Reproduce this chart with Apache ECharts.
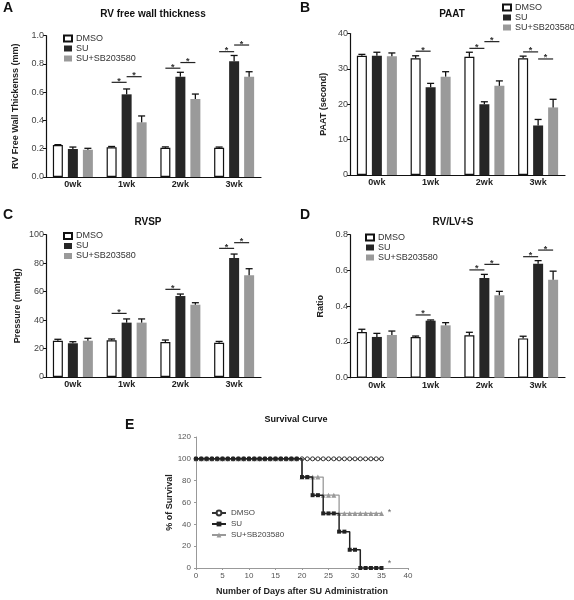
<!DOCTYPE html>
<html><head><meta charset="utf-8">
<script src="https://cdn.jsdelivr.net/npm/echarts@6/dist/echarts.min.js"></script>
<style>html,body{margin:0;padding:0;background:#fff}#c{width:574px;height:600px}</style>
</head><body><div id="c"></div>
<script>
// ---------- data ----------
const weeks = ['0wk', '1wk', '2wk', '3wk'];
const groups = ['DMSO', 'SU', 'SU+SB203580'];

// A: RV free wall thickness (mm)
const rvwtDMSO = [0.226, 0.21, 0.207, 0.207];
const rvwtSU   = [0.198, 0.585, 0.71, 0.82];
const rvwtSB   = [0.193, 0.387, 0.552, 0.71];
const rvwtDMSOErr = [0.003, 0.006, 0.006, 0.005];
const rvwtSUErr   = [0.014, 0.038, 0.031, 0.04];
const rvwtSBErr   = [0.01, 0.045, 0.035, 0.035];
const rvwtSig = [[1, 0, 1, 0.67], [1, 1, 2, 0.71], [2, 0, 1, 0.77], [2, 1, 2, 0.81], [3, 0, 1, 0.887], [3, 1, 2, 0.934]];
const rvwtTicks = [0, 0.2, 0.4, 0.6, 0.8, 1.0];

// B: PAAT (second)
const paatDMSO = [33.7, 33.0, 33.4, 33.0];
const paatSU   = [33.7, 24.8, 20.0, 14.0];
const paatSB   = [33.6, 27.8, 25.2, 19.1];
const paatDMSOErr = [0.4, 0.7, 1.3, 0.6];
const paatSUErr   = [1.0, 1.1, 0.7, 1.7];
const paatSBErr   = [0.9, 1.4, 1.4, 2.3];
const paatSig = [[1, 0, 1, 35.0], [2, 0, 1, 35.8], [2, 1, 2, 37.7], [3, 0, 1, 34.8], [3, 1, 2, 32.8]];
const paatTicks = [0, 10, 20, 30, 40];

// C: RVSP (mmHg)
const rvspDMSO = [25.5, 25.8, 24.6, 24.1];
const rvspSU   = [23.7, 38.2, 56.9, 83.6];
const rvspSB   = [25.5, 38.2, 50.8, 71.5];
const rvspDMSOErr = [1.0, 0.9, 1.4, 0.9];
const rvspSUErr   = [1.1, 2.6, 1.4, 2.8];
const rvspSBErr   = [1.7, 2.6, 1.4, 4.6];
const rvspSig = [[1, 0, 1, 44.7], [2, 0, 1, 61.6], [3, 0, 1, 90.4], [3, 1, 2, 94.4]];
const rvspTicks = [0, 20, 40, 60, 80, 100];

// D: RV/LV+S ratio
const ratioDMSO = [0.256, 0.228, 0.237, 0.22];
const ratioSU   = [0.228, 0.319, 0.558, 0.638];
const ratioSB   = [0.239, 0.293, 0.461, 0.548];
const ratioDMSOErr = [0.015, 0.005, 0.017, 0.012];
const ratioSUErr   = [0.02, 0.004, 0.02, 0.017];
const ratioSBErr   = [0.022, 0.015, 0.022, 0.048];
const ratioSig = [[1, 0, 1, 0.351], [2, 0, 1, 0.603], [2, 1, 2, 0.634], [3, 0, 1, 0.677], [3, 1, 2, 0.714]];
const ratioTicks = [0, 0.2, 0.4, 0.6, 0.8];

// E: Survival curve (% survival by day)
const survDays = [0,1,2,3,4,5,6,7,8,9,10,11,12,13,14,15,16,17,18,19,20,21,22,23,24,25,26,27,28,29,30,31,32,33,34,35];
const survDMSO = [100,100,100,100,100,100,100,100,100,100,100,100,100,100,100,100,100,100,100,100,100,100,100,100,100,100,100,100,100,100,100,100,100,100,100,100];
const survSU   = [100,100,100,100,100,100,100,100,100,100,100,100,100,100,100,100,100,100,100,100,83.3,83.3,66.7,66.7,50,50,50,33.3,33.3,16.7,16.7,0,0,0,0,0];
const survSB   = [100,100,100,100,100,100,100,100,100,100,100,100,100,100,100,100,100,100,100,100,83.3,83.3,83.3,83.3,66.7,66.7,66.7,50,50,50,50,50,50,50,50,50];
const survStars = [[36.5, 51], [36.5, 4.5]];
const survXTicks = [0, 5, 10, 15, 20, 25, 30, 35, 40];
const survYTicks = [0, 20, 40, 60, 80, 100, 120];

// ---------- style ----------
const FONT = "'Liberation Sans', Arial, Helvetica, sans-serif";
const BAR_W = 10, BAR_STEP = 15, CAP = 7;
const COLORS = { DMSO: '#ffffff', SU: '#262626', SB: '#9a9a9a' };

const panels = [
  { id: 'A', left: 46, top: 35.7, height: 141.3, ticks: rvwtTicks, dec: 1, name: 'RV Free Wall Thickenss (mm)', nameGap: 26,
    vals: [rvwtDMSO, rvwtSU, rvwtSB], errs: [rvwtDMSOErr, rvwtSUErr, rvwtSBErr], sig: rvwtSig },
  { id: 'B', left: 350, top: 33.5, height: 141.5, ticks: paatTicks, dec: 0, name: 'PAAT (second)', nameGap: 22,
    vals: [paatDMSO, paatSU, paatSB], errs: [paatDMSOErr, paatSUErr, paatSBErr], sig: paatSig },
  { id: 'C', left: 46, top: 234.7, height: 142.3, ticks: rvspTicks, dec: 0, name: 'Pressure (mmHg)', nameGap: 24,
    vals: [rvspDMSO, rvspSU, rvspSB], errs: [rvspDMSOErr, rvspSUErr, rvspSBErr], sig: rvspSig },
  { id: 'D', left: 350, top: 234.7, height: 143, ticks: ratioTicks, dec: 1, name: 'Ratio', nameGap: 25,
    vals: [ratioDMSO, ratioSU, ratioSB], errs: [ratioDMSOErr, ratioSUErr, ratioSBErr], sig: ratioSig }
];

const grid = [], xAxis = [], yAxis = [], series = [];
panels.forEach((p, k) => {
  grid.push({ left: p.left, top: p.top, width: 215, height: p.height, containLabel: false, outerBoundsMode: 'none' });
  xAxis.push({ type: 'category', gridIndex: k, data: weeks,
    axisLine: { lineStyle: { color: '#111', width: 1.2 } },
    axisTick: { alignWithLabel: true, length: 3, lineStyle: { color: '#111' } },
    axisLabel: { fontFamily: FONT, fontSize: 9, fontWeight: 'bold', color: '#222', margin: 3 } });
  yAxis.push({ type: 'value', gridIndex: k, min: p.ticks[0], max: p.ticks[p.ticks.length - 1],
    interval: p.ticks[1] - p.ticks[0], splitLine: { show: false },
    axisLine: { show: true, lineStyle: { color: '#111', width: 1.2 } },
    axisTick: { show: true, length: 3, lineStyle: { color: '#111' } },
    axisLabel: { fontFamily: FONT, fontSize: 9, color: '#444', margin: 2, formatter: v => v.toFixed(p.dec) },
    name: p.name, nameLocation: 'middle', nameRotate: 90, nameGap: p.nameGap,
    nameTextStyle: { fontFamily: FONT, fontSize: 9, fontWeight: 'bold', color: '#222' } });
  groups.forEach((g, s) => {
    const col = s === 0 ? COLORS.DMSO : (s === 1 ? COLORS.SU : COLORS.SB);
    series.push({ type: 'bar', name: g, xAxisIndex: k, yAxisIndex: k, barWidth: BAR_W, barGap: '50%',
      data: p.vals[s], silent: true,
      itemStyle: s === 0 ? { color: col, borderColor: '#111', borderWidth: 1.2 } : { color: col } });
  });
  groups.forEach((g, s) => {
    series.push({ type: 'custom', xAxisIndex: k, yAxisIndex: k, z: 5, silent: true,
      encode: { x: 0, y: [1, 2] },
      data: p.vals[s].map((v, i) => [i, v, v + p.errs[s][i]]),
      renderItem: (params, api) => {
        const c = api.coord([api.value(0), api.value(1)]);
        const t = api.coord([api.value(0), api.value(2)]);
        const x = c[0] + (s - 1) * BAR_STEP;
        const st = { stroke: '#111', lineWidth: 1.3 };
        return { type: 'group', children: [
          { type: 'line', shape: { x1: x, y1: c[1], x2: x, y2: t[1] }, style: st },
          { type: 'line', shape: { x1: x - CAP / 2, y1: t[1], x2: x + CAP / 2, y2: t[1] }, style: st }
        ] };
      } });
  });
  series.push({ type: 'custom', xAxisIndex: k, yAxisIndex: k, z: 6, silent: true,
    encode: { x: 0, y: 3 },
    data: p.sig,
    renderItem: (params, api) => {
      const c = api.coord([api.value(0), api.value(3)]);
      const x1 = c[0] + (api.value(1) - 1) * BAR_STEP;
      const x2 = c[0] + (api.value(2) - 1) * BAR_STEP;
      return { type: 'group', children: [
        { type: 'line', shape: { x1: x1, y1: c[1], x2: x2, y2: c[1] }, style: { stroke: '#222', lineWidth: 1.2 } },
        { type: 'text', x: (x1 + x2) / 2, y: c[1] - 1, style: { text: '*', font: 'bold 9px ' + FONT, fill: '#333', align: 'center', verticalAlign: 'middle', textAlign: 'center', textVerticalAlign: 'middle' } }
      ] };
    } });
});

// ---------- E: survival ----------
const ek = 4;
grid.push({ left: 196, top: 437, width: 212, height: 131, containLabel: false, outerBoundsMode: 'none' });
xAxis.push({ type: 'value', gridIndex: ek, min: survXTicks[0], max: survXTicks[survXTicks.length - 1], interval: survXTicks[1] - survXTicks[0],
  splitLine: { show: false },
  axisLine: { show: true, lineStyle: { color: '#999', width: 1 } },
  axisTick: { show: true, length: 2, lineStyle: { color: '#999' } },
  axisLabel: { fontFamily: FONT, fontSize: 8, color: '#555', margin: 4 },
  name: 'Number of Days after SU Administration', nameLocation: 'middle', nameGap: 19,
  nameTextStyle: { fontFamily: FONT, fontSize: 9, fontWeight: 'bold', color: '#222' } });
yAxis.push({ type: 'value', gridIndex: ek, min: survYTicks[0], max: survYTicks[survYTicks.length - 1], interval: survYTicks[1] - survYTicks[0],
  splitLine: { show: false },
  axisLine: { show: true, lineStyle: { color: '#999', width: 1 } },
  axisTick: { show: true, length: 2, lineStyle: { color: '#999' } },
  axisLabel: { fontFamily: FONT, fontSize: 8, color: '#555', margin: 5 },
  name: '% of Survival', nameLocation: 'middle', nameRotate: 90, nameGap: 21,
  nameTextStyle: { fontFamily: FONT, fontSize: 9, fontWeight: 'bold', color: '#222' } });

const survNames = ['DMSO ', 'SU ', 'SU+SB203580 '];
series.push({ type: 'line', name: survNames[0], xAxisIndex: ek, yAxisIndex: ek, step: 'end', silent: true,
  data: survDays.map((d, i) => [d, survDMSO[i]]), symbol: 'circle', symbolSize: 4, showAllSymbol: true,
  lineStyle: { color: '#333', width: 1.3 }, itemStyle: { color: '#fff', borderColor: '#333', borderWidth: 1 }, z: 3 });
series.push({ type: 'line', name: survNames[2], xAxisIndex: ek, yAxisIndex: ek, step: 'end', silent: true,
  data: survDays.map((d, i) => [d, survSB[i]]), symbol: 'triangle', symbolSize: 5, showAllSymbol: true,
  lineStyle: { color: '#999', width: 1.3 }, itemStyle: { color: '#999' }, z: 4 });
series.push({ type: 'line', name: survNames[1], xAxisIndex: ek, yAxisIndex: ek, step: 'end', silent: true,
  data: survDays.map((d, i) => [d, survSU[i]]), symbol: 'rect', symbolSize: 4, showAllSymbol: true,
  lineStyle: { color: '#222', width: 1.5 }, itemStyle: { color: '#222' }, z: 5 });
series.push({ type: 'custom', xAxisIndex: ek, yAxisIndex: ek, z: 6, silent: true, encode: { x: 0, y: 1 },
  data: survStars,
  renderItem: (params, api) => {
    const c = api.coord([api.value(0), api.value(1)]);
    return { type: 'text', x: c[0], y: c[1], style: { text: '*', font: '9px ' + FONT, fill: '#666', align: 'center', verticalAlign: 'middle', textAlign: 'center', textVerticalAlign: 'middle' } };
  } });

// ---------- legends ----------
const barLegend = (left, top) => ({ data: groups, left: left, top: top, orient: 'vertical', icon: 'rect',
  itemWidth: 8, itemHeight: 6, itemGap: 1, selectedMode: false,
  textStyle: { fontFamily: FONT, fontSize: 9, color: '#333', padding: [0, 0, 0, -1] }, padding: 0 });
const legend = [
  barLegend(63, 34), barLegend(502, 3), barLegend(63, 231.5), barLegend(365, 233),
  { data: survNames, left: 211, top: 509, orient: 'vertical', itemWidth: 14, itemHeight: 6, itemGap: 3, selectedMode: false,
    textStyle: { fontFamily: FONT, fontSize: 8, color: '#444' }, padding: 0 }
];

// ---------- text ----------
const txt = (x, y, text, size, align) => ({ type: 'text', x: x, y: y, silent: true,
  style: { text: text, font: 'bold ' + size + 'px ' + FONT, fill: '#111', align: align, verticalAlign: 'middle', textAlign: align, textVerticalAlign: 'middle' } });
const graphic = [
  txt(3, 8, 'A', 14, 'left'), txt(300, 8, 'B', 14, 'left'), txt(3, 215, 'C', 14, 'left'), txt(300, 215, 'D', 14, 'left'), txt(125, 425, 'E', 14, 'left'),
  txt(153, 14, 'RV free wall thickness', 10, 'center'),
  txt(452, 14, 'PAAT', 10, 'center'),
  txt(148, 222, 'RVSP', 10, 'center'),
  txt(453, 222, 'RV/LV+S', 10, 'center'),
  txt(296, 420, 'Survival Curve', 9, 'center')
];

const chart = echarts.init(document.getElementById('c'), null, { renderer: 'canvas' });
chart.setOption({ animation: false, backgroundColor: '#fff', grid, xAxis, yAxis, series, legend, graphic });
</script>
</body></html>
